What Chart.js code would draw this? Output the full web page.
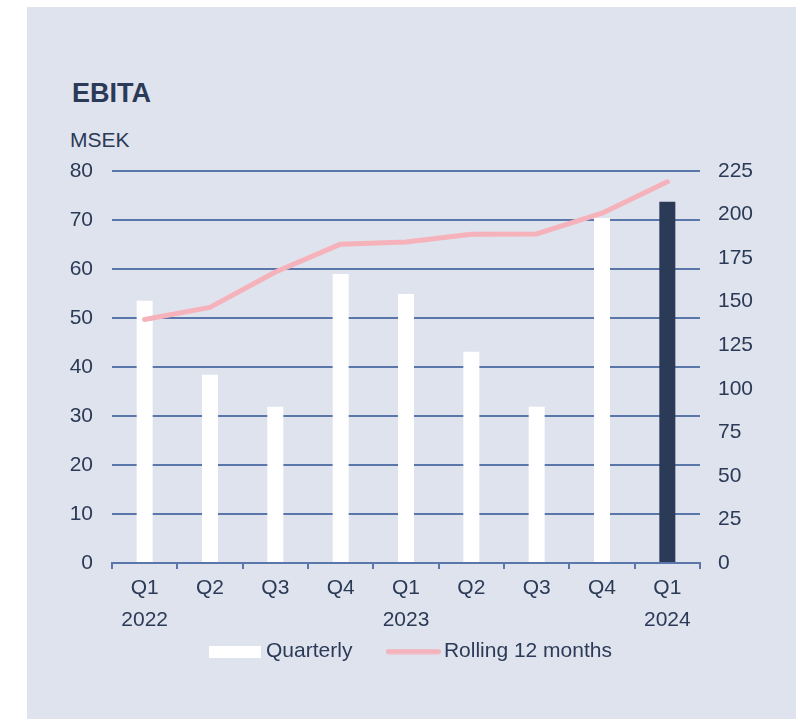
<!DOCTYPE html>
<html>
<head>
<meta charset="utf-8">
<title>EBITA</title>
<script src="https://cdn.jsdelivr.net/npm/chart.js@4"></script>
<style>
    body { margin: 0; background: #ffffff; font-family: "Liberation Sans", Arial, sans-serif; }
    #panel { position: absolute; left: 27px; top: 7px; width: 769px; height: 712px; background: #dfe3ee; }
    .txt { position: absolute; color: #2b3a56; line-height: 1; white-space: nowrap; }
    #title { left: 72px; top: 80px; font-size: 27px; font-weight: bold; }
    #unit { left: 70px; top: 129px; font-size: 21px; }
    #chart { position: absolute; left: 0; top: 0; }
</style>
</head>
<body>
<div id="panel"></div>
<div class="txt" id="title">EBITA</div>
<div class="txt" id="unit">MSEK</div>
<canvas id="chart" width="803" height="719"></canvas>

<script>
// --- Data ---
const quarters = ["Q1", "Q2", "Q3", "Q4", "Q1", "Q2", "Q3", "Q4", "Q1"];
const years = ["2022", "", "", "", "2023", "", "", "", "2024"];
const quarterly = [53.5, 38.4, 31.9, 59.0, 54.9, 43.1, 31.9, 70.4, 73.7];
const rolling12 = [139.8, 146.7, 167.0, 183.0, 184.3, 188.7, 188.9, 200.8, 218.8];
const seriesNames = ["Quarterly", "Rolling 12 months"];
const leftAxis = { min: 0, max: 80, step: 10 };
const rightAxis = { min: 0, max: 225, step: 25 };

// --- Colours ---
const textColor = "#2b3a56";
const gridColor = "#5b76aa";
const pink = "#f5b2ba";
const barColors = quarterly.map((v, i) => i === quarterly.length - 1 ? "#2b3a56" : "#ffffff");

const labels = quarters.map((q, i) => years[i] ? [q, years[i]] : q);
const font = { family: "'Liberation Sans', Arial, sans-serif", size: 21, lineHeight: 32 / 21 };

// legend swatches (drawn as images so they sit like the original)
function barSwatch() {
    const c = document.createElement("canvas");
    c.width = 87; c.height = 12;
    const g = c.getContext("2d");
    g.fillStyle = "#ffffff";
    g.fillRect(35, 0, 52, 12);
    return c;
}
function lineSwatch() {
    const c = document.createElement("canvas");
    c.width = 91; c.height = 6;
    const g = c.getContext("2d");
    g.strokeStyle = pink;
    g.lineWidth = 5;
    g.lineCap = "round";
    g.beginPath();
    g.moveTo(38.5, 3);
    g.lineTo(88.5, 3);
    g.stroke();
    return c;
}

new Chart(document.getElementById("chart"), {
    data: {
        labels: labels,
        datasets: [
            {
                type: "bar",
                label: seriesNames[0],
                data: quarterly,
                backgroundColor: barColors,
                borderWidth: 0,
                barPercentage: 0.245,
                categoryPercentage: 1,
                yAxisID: "y",
                order: 2
            },
            {
                type: "line",
                label: seriesNames[1],
                data: rolling12,
                borderColor: pink,
                borderWidth: 5,
                borderCapStyle: "round",
                borderJoinStyle: "round",
                pointRadius: 0,
                tension: 0,
                yAxisID: "y1",
                order: 1
            }
        ]
    },
    options: {
        responsive: false,
        animation: false,
        layout: { padding: { left: 38.5, right: 50, top: 171, bottom: 47 } },
        plugins: {
            tooltip: { enabled: false },
            legend: {
                position: "bottom",
                labels: {
                    color: textColor,
                    font: font,
                    usePointStyle: true,
                    pointStyleWidth: 76,
                    padding: 5,
                    generateLabels: () => [
                        { text: seriesNames[0], pointStyle: barSwatch(), fontColor: textColor, datasetIndex: 0, lineWidth: 0 },
                        { text: seriesNames[1], pointStyle: lineSwatch(), fontColor: textColor, datasetIndex: 1, lineWidth: 0 }
                    ]
                }
            }
        },
        scales: {
            x: {
                grid: { display: true, drawOnChartArea: false, offset: true, tickLength: 6, color: gridColor, lineWidth: 2 },
                border: { display: true, color: gridColor, width: 2 },
                ticks: { color: textColor, font: font, padding: 3, maxRotation: 0, autoSkip: false },
                afterFit: s => { s.height = 73; }
            },
            y: {
                position: "left",
                min: leftAxis.min,
                max: leftAxis.max,
                ticks: { stepSize: leftAxis.step, color: textColor, font: font, padding: 19 },
                grid: { color: gridColor, lineWidth: 2, drawTicks: false },
                border: { display: false },
                afterFit: s => { s.width = 73.5; }
            },
            y1: {
                position: "right",
                min: rightAxis.min,
                max: rightAxis.max,
                ticks: { stepSize: rightAxis.step, color: textColor, font: font, padding: 18 },
                grid: { display: false, drawTicks: false },
                border: { display: false },
                afterFit: s => { s.width = 53; }
            }
        }
    }
});
</script>
</body>
</html>
